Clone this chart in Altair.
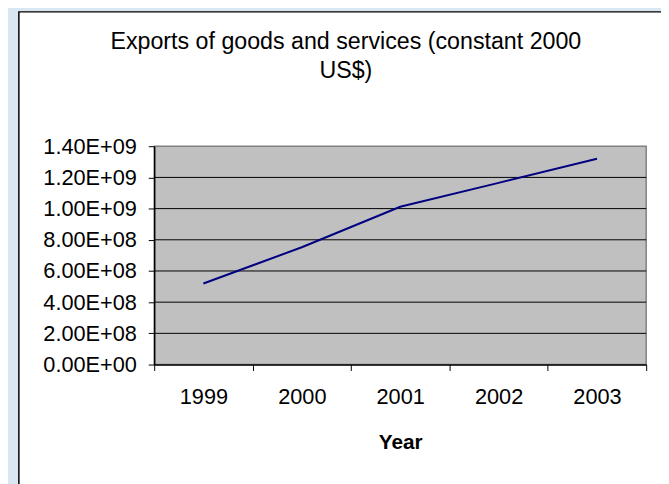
import altair as alt
import pandas as pd

years = ["1999", "2000", "2001", "2002", "2003"]
exports = [5.20e8, 7.52e8, 1.012e9, 1.165e9, 1.320e9]
y_tick_values = [0, 2e8, 4e8, 6e8, 8e8, 1.0e9, 1.2e9, 1.4e9]
y_tick_labels = ["0.00E+00", "2.00E+08", "4.00E+08", "6.00E+08",
                 "8.00E+08", "1.00E+09", "1.20E+09", "1.40E+09"]
grid_values = y_tick_values[1:-1]
title_lines = ["Exports of goods and services (constant 2000", "US$)"]
x_title = "Year"

W, H = 498, 221
FONT = "Liberation Sans"

df = pd.DataFrame({"year": years, "exports": exports})
grid_df = pd.DataFrame({"v": grid_values})
one = pd.DataFrame({"a": [0]})

label_expr = "[" + ",".join("'%s'" % s for s in y_tick_labels) + "][round(datum.value / 2e8)]"

y_axis = alt.Axis(title=None, values=y_tick_values, labelExpr=label_expr,
                  labelFont=FONT, labelFontSize=22, labelColor="black",
                  labelPadding=12, tickSize=6, tickColor="black",
                  domainColor="black", domainWidth=1.5, grid=False, zindex=1)
y_scale = alt.Scale(domain=[0, 1.4e9])

frame = alt.Chart(one).mark_rect(fill="white", stroke="black", strokeWidth=1.5).encode(
    x=alt.value(-137), x2=alt.value(540), y=alt.value(-136), y2=alt.value(360)
)
plot_bg = alt.Chart(one).mark_rect(fill="#C0C0C0", stroke="#808080", strokeWidth=1.5).encode(
    x=alt.value(0), x2=alt.value(W), y=alt.value(0), y2=alt.value(H)
)
grid = alt.Chart(grid_df).mark_rule(color="black", strokeWidth=1).encode(
    y=alt.Y("v:Q", scale=y_scale, axis=y_axis),
    x=alt.value(0), x2=alt.value(W)
)
line = alt.Chart(df).mark_line(color="#000080", strokeWidth=2).encode(
    x=alt.X("year:O", scale=alt.Scale(type="band", paddingInner=0, paddingOuter=0),
            bandPosition=0.5,
            axis=alt.Axis(title=x_title, tickBand="extent", labelAngle=0,
                          labelFont=FONT, labelFontSize=22, labelColor="black",
                          labelPadding=16, tickSize=6, tickColor="black",
                          domainColor="black", domainWidth=1.5,
                          titleFont=FONT, titleFontSize=21, titleFontWeight="bold",
                          titleColor="black", titlePadding=25, zindex=1)),
    y=alt.Y("exports:Q", scale=y_scale, axis=y_axis)
)

chart = alt.layer(frame, plot_bg, grid, line).properties(
    width=W, height=H,
    padding={"left": 148, "top": 137, "right": 15, "bottom": 118},
    autosize=alt.AutoSizeParams(type="none"),
    title=alt.TitleParams(text=title_lines, font=FONT, fontSize=23.5, fontWeight="normal",
                          color="black", anchor="middle", dx=-55, offset=-72,
                          lineHeight=29),
).configure(background="#D9E7F3").configure_view(stroke=None)

chart.save("out.html", embed_options={"renderer": "svg", "actions": False})
